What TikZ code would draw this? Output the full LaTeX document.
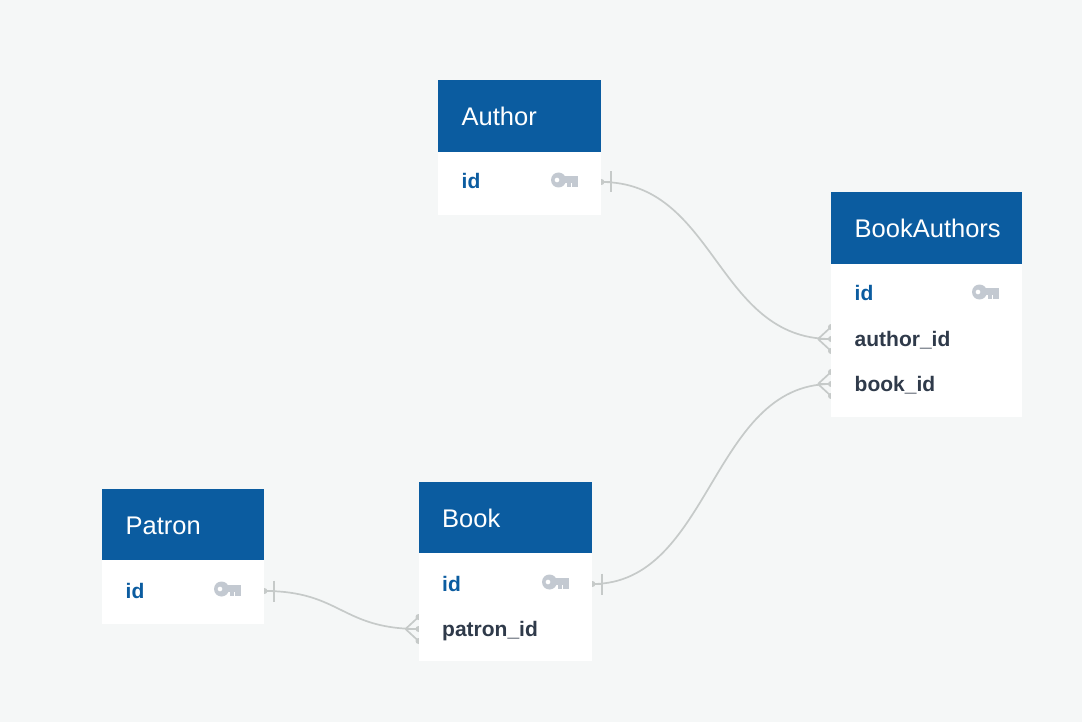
\documentclass[tikz,border=0pt]{standalone}
\usepackage{fontspec}
\setmainfont{Liberation Sans}
\definecolor{pagebg}{HTML}{F5F7F7}
\definecolor{headblue}{HTML}{0B5CA0}
\definecolor{darktext}{HTML}{2F3A4A}
\definecolor{keygrey}{HTML}{C3C9D1}
\definecolor{linkgrey}{HTML}{C6CAC9}
\pgfdeclarelayer{bg}
\pgfdeclarelayer{conn}
\pgfsetlayers{bg,conn,main}
\tikzset{
  x=1pt,y=-1pt,
  headbox/.style={draw=none,fill=headblue,text=white,anchor=north west,minimum height=72pt,
    inner xsep=23.5pt,inner ysep=0pt,align=left,text height=21pt,text depth=2pt,
    font=\fontsize{25.5}{28}\selectfont},
  bodybox/.style={draw=none,fill=white,anchor=north west,inner sep=0pt},
  rowbase/.style={anchor=west,inner xsep=23.5pt,inner ysep=0pt,minimum height=45pt,align=left,
    text height=17pt,text depth=3pt,font=\fontsize{21}{24}\selectfont\bfseries},
  keyrow/.style={rowbase,text=headblue},
  fieldrow/.style={rowbase,text=darktext},
  link/.style={draw=linkgrey,line width=1.7pt},
  key/.pic={
    \fill[keygrey,even odd rule] (7.5,0) circle[radius=7.5] (6,0) circle[radius=2.5];
    \fill[keygrey] (12,-3.6) rectangle (27,3.2);
    \fill[keygrey] (15.5,3) rectangle (19.5,6.8);
    \fill[keygrey] (20.5,3) rectangle (27,7.2);
  },
  one/.pic={
    \draw[link] (0,0) -- (10,0);
    \draw[link,line width=2pt] (10,-10.5) -- (10,10.5);
    \fill[linkgrey] (0,0) circle[radius=3];
  },
  many/.pic={
    \draw[link] (0,0) -- (-13,0) (-13,0) -- (0,-12) (-13,0) -- (0,12);
    \fill[linkgrey] (0,0) circle[radius=3] (0,-12) circle[radius=3] (0,12) circle[radius=3];
  },
}
\begin{document}
\begin{tikzpicture}
\begin{pgfonlayer}{bg}
\fill[pagebg] (0,0) rectangle (1082,722);
\end{pgfonlayer}
\useasboundingbox (0,0) rectangle (1082,722);

% Author
\node[bodybox,minimum width=163pt,minimum height=63pt] (authorBody) at (438,152) {};
\node[headbox,minimum width=163pt,text width=116pt] (authorHead) at (438,80) {Author};
\node[keyrow,minimum width=163pt,text width=116pt] (authorId) at (438,182) {id};
\pic at (551,180) {key};

% BookAuthors
\node[bodybox,minimum width=191pt,minimum height=153pt] (baBody) at (831,264) {};
\node[headbox,minimum width=191pt,text width=144pt] (baHead) at (831,192) {BookAuthors};
\node[keyrow,minimum width=191pt,text width=144pt] (baId) at (831,294) {id};
\node[fieldrow,minimum width=191pt,text width=144pt] (baAuthor) at (831,339) {author\_id};
\node[fieldrow,minimum width=191pt,text width=144pt] (baBook) at (831,384) {book\_id};
\pic at (972,292) {key};

% Book
\node[bodybox,minimum width=173.5pt,minimum height=108pt] (bookBody) at (418.5,553) {};
\node[headbox,minimum width=173.5pt,minimum height=71pt,text width=126.5pt] (bookHead) at (418.5,482) {Book};
\node[keyrow,minimum width=173.5pt,text width=126.5pt] (bookId) at (418.5,584) {id};
\node[fieldrow,minimum width=173.5pt,text width=126.5pt] (bookPatron) at (418.5,629) {patron\_id};
\pic at (542,582) {key};

% Patron
\node[bodybox,minimum width=162pt,minimum height=64pt] (patronBody) at (102,560) {};
\node[headbox,minimum width=162pt,minimum height=71pt,text width=115pt] (patronHead) at (102,489) {Patron};
\node[keyrow,minimum width=162pt,text width=115pt] (patronId) at (102,591) {id};
\pic at (214,589) {key};

% Connectors
\begin{pgfonlayer}{conn}
\draw[link] (authorId.east) .. controls (716,182) and (716,339) .. (baAuthor.west);
\draw[link] (bookId.east) .. controls (711,584) and (711,384) .. (baBook.west);
\draw[link] (patronId.east) .. controls (341,591) and (341,629) .. (bookPatron.west);
\pic at (authorId.east) {one};
\pic at (bookId.east) {one};
\pic at (patronId.east) {one};
\pic at (baAuthor.west) {many};
\pic at (baBook.west) {many};
\pic at (bookPatron.west) {many};
\end{pgfonlayer}
\end{tikzpicture}
\end{document}
